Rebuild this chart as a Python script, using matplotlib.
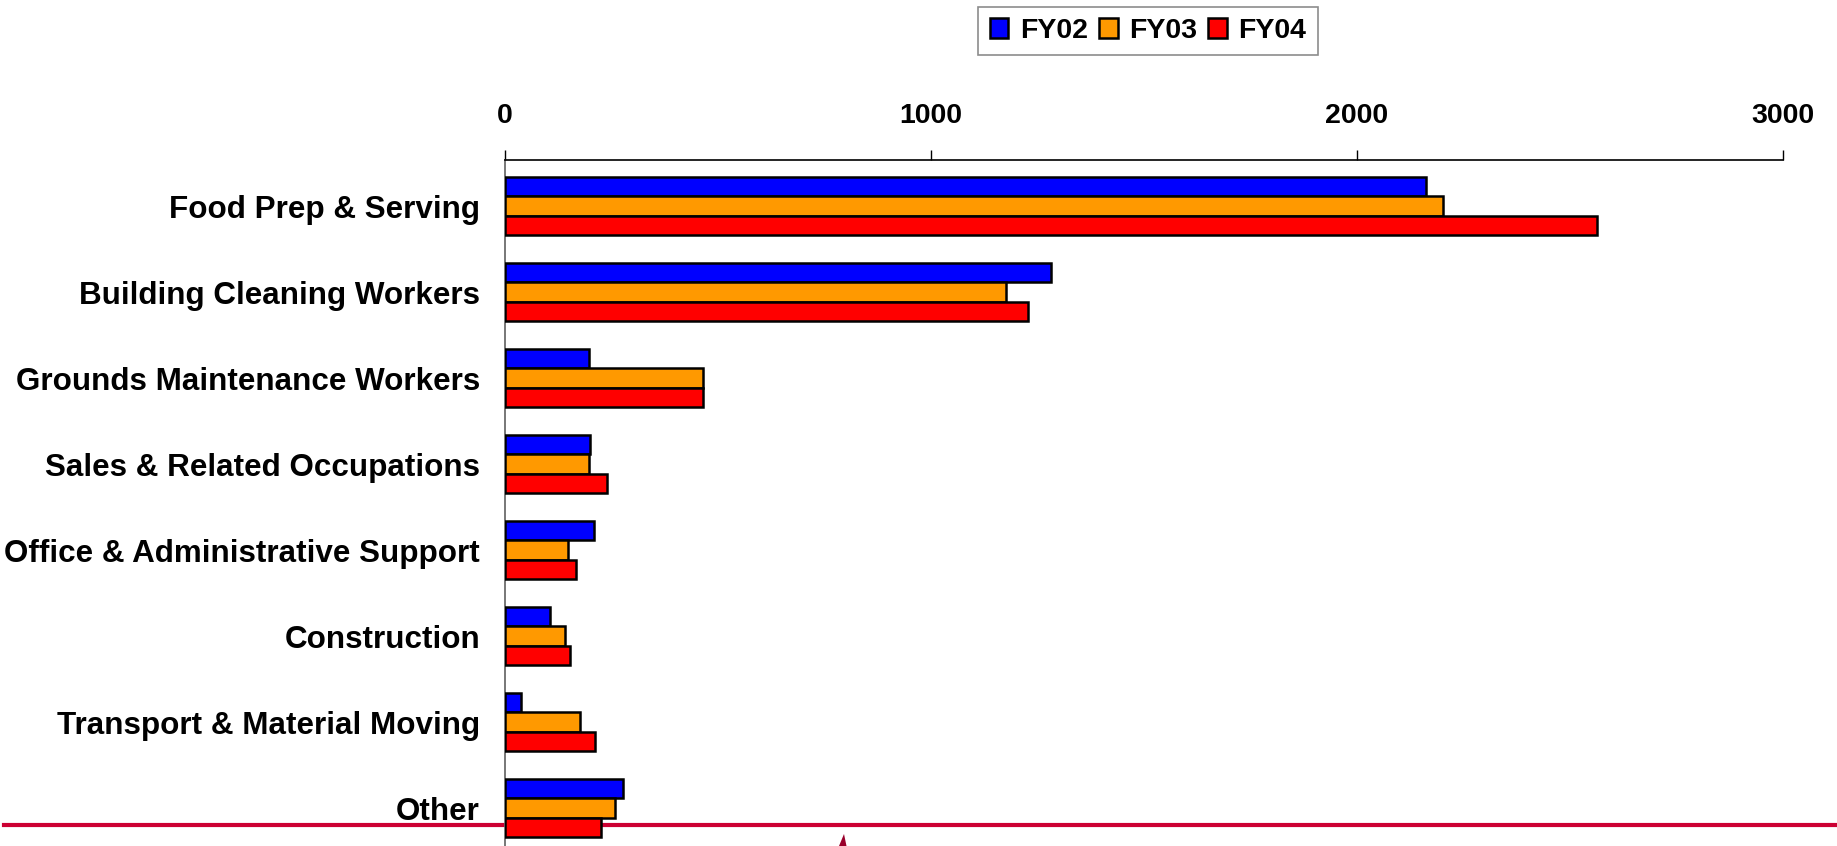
import numpy as np
import matplotlib
matplotlib.use('Agg')
from matplotlib import pyplot as plt
from matplotlib.lines import Line2D
from matplotlib.patches import Polygon

plt.rcParams['font.family'] = ['Liberation Sans', 'DejaVu Sans']
plt.rcParams['font.weight'] = 'bold'

categories = ['Food Prep & Serving', 'Building Cleaning Workers', 'Grounds Maintenance Workers',
              'Sales & Related Occupations', 'Office & Administrative Support', 'Construction',
              'Transport & Material Moving', 'Other']
fy02 = [2162, 1282, 198, 199, 208, 106, 37, 277]
fy03 = [2203, 1175, 465, 198, 147, 142, 175, 258]
fy04 = [2563, 1227, 465, 240, 166, 152, 212, 226]
series_names = ['FY02', 'FY03', 'FY04']
colors = ['#0000FF', '#FF9900', '#FF0000']
x_ticks = [0, 1000, 2000, 3000]

W, H = 1837, 846
fig = plt.figure(figsize=(W / 100, H / 100), dpi=100)

# red rule across the bottom (behind the bars)
fig.add_artist(Line2D([4 / W, 1.0], [1 - 824.5 / H] * 2, color='#CC0033', lw=3, zorder=0))
# little bit of a logo cut off at the bottom edge
fig.add_artist(Polygon([[839 / W, 0], [844 / W, 1 - 834 / H], [846.5 / W, 0]],
                       closed=True, color='#99002B', lw=0, zorder=0))

ax = fig.add_axes([505 / W, -5 / H, (1783 - 505) / W, (851 - 160.5) / H], zorder=1)
ax.patch.set_visible(False)

y = np.arange(len(categories))
h = 0.227
for i, (vals, name, c) in enumerate(zip([fy02, fy03, fy04], series_names, colors)):
    ax.barh(y + (i - 1) * h, vals, height=h, color=c, edgecolor='black', linewidth=1.8,
            label=name, zorder=3)

ax.set_xlim(0, 3000)
ax.set_ylim(7.5, -0.53)
ax.set_xticks(x_ticks)
ax.xaxis.tick_top()
ax.tick_params(axis='x', direction='out', length=7, width=1, pad=15.5, labelsize=20.5,
               colors='black')
ax.set_yticks(y)
ax.set_yticklabels(categories, fontsize=22.6, fontweight='bold')
ax.tick_params(axis='y', length=0, pad=18)
for lab in ax.get_xticklabels():
    lab.set_fontweight('bold')

ax.spines['right'].set_visible(False)
ax.spines['bottom'].set_visible(False)
ax.spines['top'].set_color('black')
ax.spines['top'].set_linewidth(1.2)
ax.spines['left'].set_color('#606060')
ax.spines['left'].set_linewidth(1.2)

leg = fig.legend(loc='center', bbox_to_anchor=(1148 / W, 1 - 31 / H), ncol=3, fontsize=20.5,
                 frameon=True, fancybox=False, handlelength=0.65, handleheight=0.65,
                 handletextpad=0.4, columnspacing=0.4, borderpad=0.4, borderaxespad=0)
leg.get_frame().set_edgecolor('#707070')
leg.get_frame().set_linewidth(1.2)
for t in leg.get_texts():
    t.set_fontweight('bold')

fig.savefig('out.png', dpi=100)
